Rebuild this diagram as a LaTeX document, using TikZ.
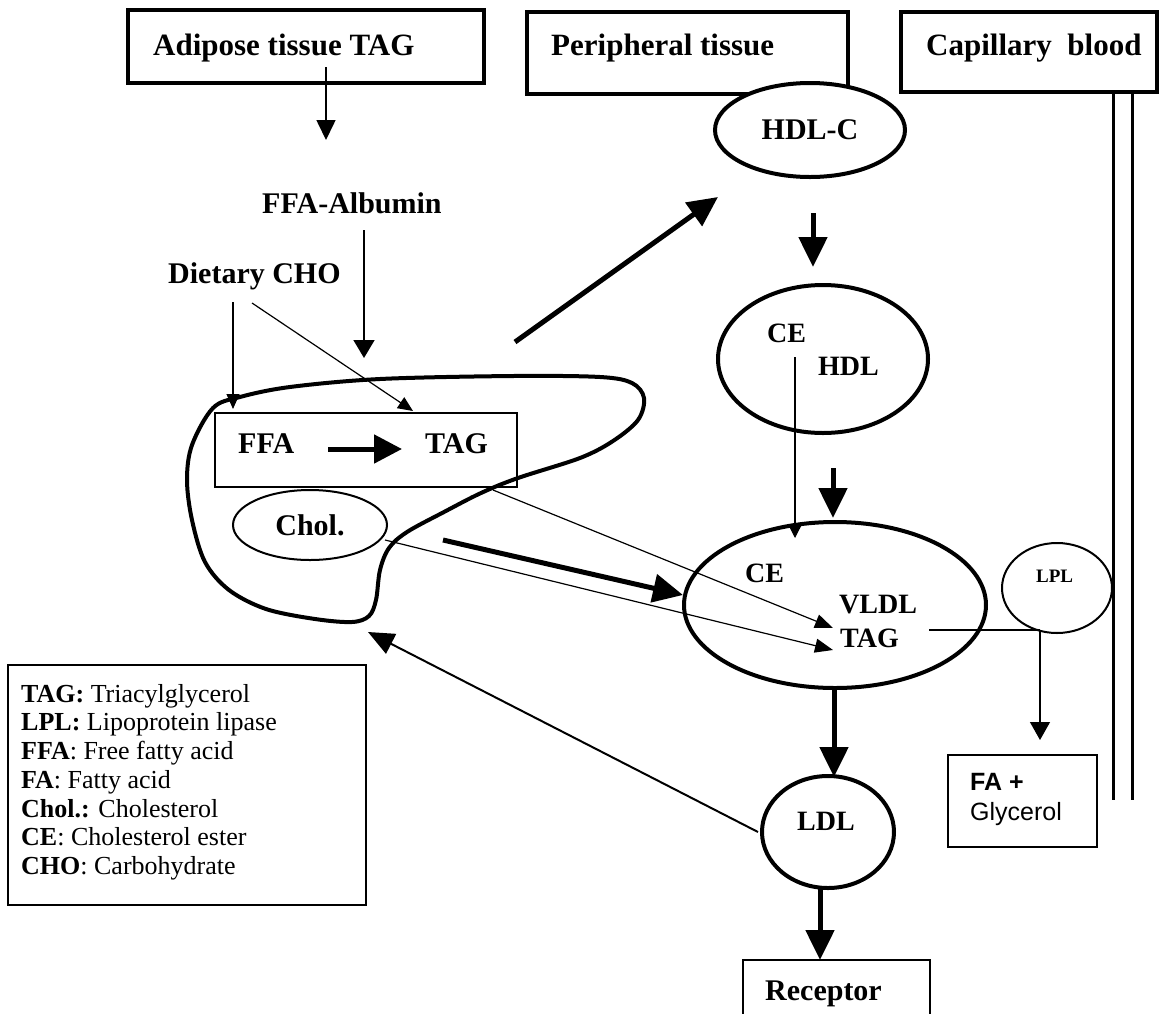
\documentclass[tikz,border=0pt]{standalone}
\usepackage{fontspec}
\setmainfont{Liberation Serif}
\newfontfamily\labelsans{Liberation Sans}
\usetikzlibrary{arrows.meta,shapes.geometric}

\tikzset{
  lbl/.style={font=\fontsize{30}{34}\selectfont\bfseries, inner sep=0pt},
  headlbl/.style={font=\fontsize{31}{35}\selectfont\bfseries, inner sep=0pt},
  midlbl/.style={font=\fontsize{28}{32}\selectfont\bfseries, inner sep=0pt},
  titlebox/.style={draw, line width=4.5pt, inner sep=0pt},
  oval/.style={draw, ellipse, line width=4pt, inner sep=0pt},
  thinoval/.style={draw, ellipse, line width=2pt, inner sep=0pt},
  longtip/.style={line width=1.6pt, -{Triangle[length=20pt,width=19pt]}},
  smalltip/.style={line width=1.2pt, -{Triangle[length=15pt,width=13pt]}},
  heavytip/.style={line width=5pt, -{Triangle[length=30pt,width=28pt]}},
}

\begin{document}
\begin{tikzpicture}[x=1pt,y=-1pt]
\fill[white] (0,0) rectangle (1163,1013);
\useasboundingbox (0,0) rectangle (1163,1013);

% ---- compartment headers ----
\node[titlebox, minimum width=356pt, minimum height=73pt] (adibox) at (306,46.5) {};
\node[headlbl, anchor=base west] (aditxt) at (153,55) {Adipose tissue TAG};
\node[titlebox, minimum width=321pt, minimum height=82pt] (peribox) at (687.5,53) {};
\node[headlbl, anchor=base west] (peritxt) at (551,55) {Peripheral tissue};
\node[titlebox, minimum width=256pt, minimum height=80pt] (capbox) at (1029,52) {};
\node[headlbl, anchor=base west] (captxt) at (926,55) {Capillary\ \ blood};

% ---- capillary wall ----
\coordinate (wallAtop) at (1113,92);
\coordinate (wallAbot) at (1113,800);
\coordinate (wallBtop) at (1132,92);
\coordinate (wallBbot) at (1132,800);
\draw[line width=3pt] (wallAtop) -- (wallAbot);
\draw[line width=3pt] (wallBtop) -- (wallBbot);

% ---- fatty acid supply ----
\coordinate (adiout) at (326,67);
\coordinate (adiend) at (326,140);
\draw[longtip] (adiout) -- (adiend);
\node[lbl, anchor=base west] (albumin) at (262,213) {FFA-Albumin};
\coordinate (albout) at (364,230);
\coordinate (albend) at (364,358);
\draw[line width=1.6pt, -{Triangle[length=18pt,width=21pt]}] (albout) -- (albend);
\node[lbl, anchor=base west] (diet) at (168,283) {Dietary CHO};
\coordinate (dietA) at (233,302);
\coordinate (dietAend) at (233,409);
\coordinate (dietB) at (252,303);
\coordinate (dietBend) at (413,411);
\draw[smalltip] (dietA) -- (dietAend);
\draw[smalltip] (dietB) -- (dietBend);

% ---- liver cell outline ----
\draw[line width=4pt] plot[smooth cycle, tension=0.55] coordinates {
  (213,408) (240,397) (290,387) (380,379) (513,376) (600,377) (632,383)
  (644,398) (638,420) (613,441) (580,458) (518,478) (481,493) (444,512)
  (407,532) (389,548) (380,570) (376,600) (369,616) (352,622) (315,619)
  (266,609) (229,590) (205,562) (192,520) (187,480) (192,445)};

% ---- inside the cell ----
\node[draw, line width=2.5pt, minimum width=302pt, minimum height=74pt, inner sep=0pt] (ffabox) at (366,450) {};
\node[lbl, anchor=base west] (ffa) at (238,453) {FFA};
\node[lbl, anchor=base west] (tag) at (425,453) {TAG};
\coordinate (ffaout) at (328,449);
\coordinate (tagin) at (402,449);
\draw[line width=5pt, -{Triangle[length=28pt,width=28pt]}] (ffaout) -- (tagin);
\node[thinoval, minimum width=154pt, minimum height=70pt, lbl] (chol) at (310,525) {Chol.};

% ---- HDL ----
\node[oval, fill=white, minimum width=190pt, minimum height=94pt, lbl] (hdlc) at (810,130) {HDL-C};
\coordinate (toperiA) at (515,342);
\coordinate (toperiB) at (718,197);
\draw[heavytip] (toperiA) -- (toperiB);
\coordinate (hdlcout) at (813,213);
\coordinate (hdlcend) at (813,267);
\draw[heavytip] (hdlcout) -- (hdlcend);
\node[oval, minimum width=210pt, minimum height=148pt] (hdl) at (823,359) {};
\node[midlbl, anchor=base west] (hdlce) at (767,342) {CE};
\node[midlbl, anchor=base west] (hdltxt) at (818,375) {HDL};

% ---- VLDL ----
\node[oval, minimum width=302pt, minimum height=166pt] (vldl) at (835,605) {};
\node[midlbl, anchor=base west] (vldlce) at (745,582) {CE};
\node[midlbl, anchor=base west] (vldltxt) at (839,613) {VLDL};
\node[midlbl, anchor=base west] (vldltag) at (840,647) {TAG};
\coordinate (ceout) at (795,357);
\coordinate (cein) at (795,538);
\draw[line width=1.2pt, -{Triangle[length=12pt,width=12pt]}] (ceout) -- (cein);
\coordinate (hdlout) at (833,468);
\coordinate (vldltop) at (833,518);
\draw[heavytip] (hdlout) -- (vldltop);
\coordinate (ffaboxout) at (493,490);
\coordinate (tagupper) at (833,628);
\draw[line width=1.2pt, -{Triangle[length=18pt,width=14pt]}] (ffaboxout) -- (tagupper);
\coordinate (cholout) at (385,540);
\coordinate (taglower) at (833,650);
\draw[line width=1.2pt, -{Triangle[length=18pt,width=14pt]}] (cholout) -- (taglower);
\coordinate (cellout) at (443,540);
\coordinate (vldlleft) at (683,595);
\draw[heavytip] (cellout) -- (vldlleft);

% ---- lipoprotein lipase ----
\node[thinoval, minimum width=110pt, minimum height=90pt] (lpl) at (1057,588) {};
\node[font=\fontsize{19}{22}\selectfont\bfseries, inner sep=0pt, anchor=base west] (lpltxt) at (1036,582) {LPL};
\coordinate (vtagright) at (929,630);
\coordinate (lplfoot) at (1040,630);
\coordinate (faend) at (1040,740);
\draw[line width=1.2pt] (vtagright) -- (lplfoot);
\draw[line width=1.2pt, -{Triangle[length=18pt,width=20pt]}] (lplfoot) -- (faend);
\node[draw, line width=1.5pt, minimum width=149pt, minimum height=92pt, inner sep=0pt] (fabox) at (1022.5,801) {};
\node[font=\labelsans\fontsize{25}{28}\selectfont\bfseries, inner sep=0pt, anchor=base west] (fatxt) at (970,790) {FA +};
\node[font=\labelsans\fontsize{25}{28}\selectfont, inner sep=0pt, anchor=base west] (glytxt) at (970,820) {Glycerol};

% ---- LDL ----
\node[oval, minimum width=132pt, minimum height=112pt] (ldl) at (828,832) {};
\node[midlbl, anchor=base west] (ldltxt) at (797,830) {LDL};
\coordinate (vldlbot) at (834,688);
\coordinate (ldltop) at (834,777);
\draw[heavytip] (vldlbot) -- (ldltop);
\coordinate (ldlbot) at (820,888);
\coordinate (recin) at (820,960);
\draw[heavytip] (ldlbot) -- (recin);
\node[draw, line width=2.5pt, minimum width=187pt, minimum height=80pt, inner sep=0pt] (recbox) at (836.5,1000) {};
\node[lbl, anchor=base west] (rectxt) at (765,1000) {Receptor};
\coordinate (ldlleft) at (758,832);
\coordinate (cellin) at (368,632);
\draw[line width=2pt, -{Triangle[length=26pt,width=22pt]}] (ldlleft) -- (cellin);

% ---- abbreviations ----
\node[draw, line width=1.5pt, minimum width=358pt, minimum height=240pt, inner sep=0pt] (legbox) at (187,785) {};
\node[font=\fontsize{26}{28.7}\selectfont, align=left, inner sep=0pt, anchor=north west] (legtxt) at (21,684) {%
\textbf{TAG:} Triacylglycerol\\
\textbf{LPL:} Lipoprotein lipase\\
\textbf{FFA}: Free fatty acid\\
\textbf{FA}: Fatty acid\\
\textbf{Chol.:} Cholesterol\\
\textbf{CE}: Cholesterol ester\\
\textbf{CHO}: Carbohydrate};
\end{tikzpicture}
\end{document}
